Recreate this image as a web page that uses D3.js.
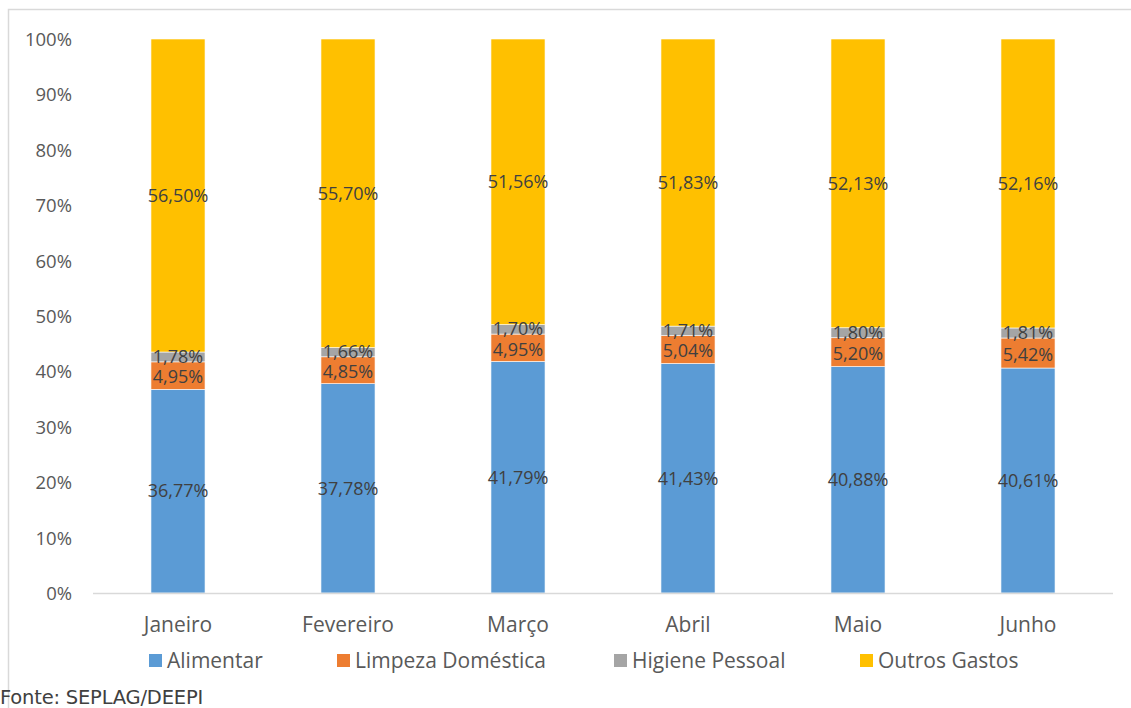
<!DOCTYPE html>
<html>
<head>
<meta charset="utf-8">
<script src="https://cdn.jsdelivr.net/npm/d3@7"></script>
<style>
  body { margin: 0; background: #fff; }
  svg text { font-family: "Open Sans", "Noto Sans", sans-serif; }
</style>
</head>
<body>
<svg id="chart" width="1131" height="708"></svg>
<script>
// data
const months = ['Janeiro', 'Fevereiro', 'Março', 'Abril', 'Maio', 'Junho'];
const seriesNames = ['Alimentar', 'Limpeza Doméstica', 'Higiene Pessoal', 'Outros Gastos'];
const alimentar = [36.77, 37.78, 41.79, 41.43, 40.88, 40.61];
const limpeza = [4.95, 4.85, 4.95, 5.04, 5.20, 5.42];
const higiene = [1.78, 1.66, 1.70, 1.71, 1.80, 1.81];
const outros = [56.50, 55.70, 51.56, 51.83, 52.13, 52.16];
const yTicks = [0, 10, 20, 30, 40, 50, 60, 70, 80, 90, 100];

const colors = ['#5b9bd5', '#ed7d31', '#a5a5a5', '#ffc000'];

const svg = d3.select('#chart');

// frame (top and left edges visible)
svg.append('path')
  .attr('d', 'M8.5,708 L8.5,9.5 L1131,9.5')
  .attr('fill', 'none')
  .attr('stroke', '#d9d9d9')
  .attr('stroke-width', 1.5);

const plotLeft = 93, plotRight = 1113, plotTop = 39, plotBottom = 593;

const x = d3.scaleBand().domain(months).range([plotLeft, plotRight]).paddingInner(0.682).paddingOuter(0.341);
const y = d3.scaleLinear().domain([0, 100]).range([plotBottom, plotTop]);

const table = months.map((m, i) => {
  const vals = [alimentar[i], limpeza[i], higiene[i], outros[i]];
  const total = d3.sum(vals);
  const row = { month: m };
  seriesNames.forEach((s, k) => { row[s] = vals[k] / total * 100; row['raw_' + s] = vals[k]; });
  return row;
});

const stack = d3.stack().keys(seriesNames);
const layers = stack(table);

// y axis labels
const yAxis = d3.axisLeft(y).tickValues(yTicks).tickFormat(d => d + '%').tickSize(0).tickPadding(21);
const gy = svg.append('g').attr('transform', `translate(${plotLeft},0)`).call(yAxis);
gy.select('.domain').remove();
gy.selectAll('text')
  .attr('fill', '#595959')
  .style('font-size', '18.5px')
  .attr('dy', '0.35em');

// bars
layers.forEach((layer, k) => {
  svg.append('g')
    .selectAll('rect')
    .data(layer)
    .join('rect')
    .attr('x', d => x(d.data.month))
    .attr('width', x.bandwidth())
    .attr('y', d => y(d[1]))
    .attr('height', d => y(d[0]) - y(d[1]))
    .attr('fill', colors[k])
    .attr('stroke', '#fff')
    .attr('stroke-width', 0.6);
});

// baseline
svg.append('line')
  .attr('x1', plotLeft).attr('x2', plotRight)
  .attr('y1', plotBottom + 0.5).attr('y2', plotBottom + 0.5)
  .attr('stroke', '#d9d9d9').attr('stroke-width', 1.5);

// data labels
const fmt = v => v.toFixed(2).replace('.', ',') + '%';
layers.forEach((layer, k) => {
  const name = seriesNames[k];
  svg.append('g')
    .selectAll('text')
    .data(layer)
    .join('text')
    .attr('x', d => x(d.data.month) + x.bandwidth() / 2)
    .attr('y', d => {
      let c = (y(d[0]) + y(d[1])) / 2;
      if (k === 1) c += 1.5;
      if (k === 2) c -= 0.5;
      return c;
    })
    .attr('dy', '0.35em')
    .attr('text-anchor', 'middle')
    .attr('fill', '#404040')
    .style('font-size', '18px')
    .text(d => fmt(d.data['raw_' + name]));
});

// x axis labels
const xAxis = d3.axisBottom(x).tickSize(0).tickPadding(24);
const gx = svg.append('g').attr('transform', `translate(0,${plotBottom})`).call(xAxis);
gx.select('.domain').remove();
gx.selectAll('text')
  .attr('fill', '#595959')
  .style('font-size', '21px');

// legend
const legendItems = [
  { name: seriesNames[0], x: 149 },
  { name: seriesNames[1], x: 337 },
  { name: seriesNames[2], x: 614 },
  { name: seriesNames[3], x: 860 }
];
const legend = svg.append('g');
legendItems.forEach((it, k) => {
  legend.append('rect')
    .attr('x', it.x).attr('y', 654)
    .attr('width', 13).attr('height', 13)
    .attr('fill', colors[k]);
  legend.append('text')
    .attr('x', it.x + 18).attr('y', 661)
    .attr('dy', '0.35em')
    .attr('fill', '#595959')
    .style('font-size', '21px')
    .text(it.name);
});

// source note
svg.append('text')
  .attr('x', 0).attr('y', 697)
  .attr('dy', '0.35em')
  .attr('fill', '#404040')
  .style('font-size', '19.5px')
  .style('font-family', '"DejaVu Sans", sans-serif')
  .style('letter-spacing', '-0.2px')
  .text('Fonte: SEPLAG/DEEPI');
</script>
</body>
</html>
